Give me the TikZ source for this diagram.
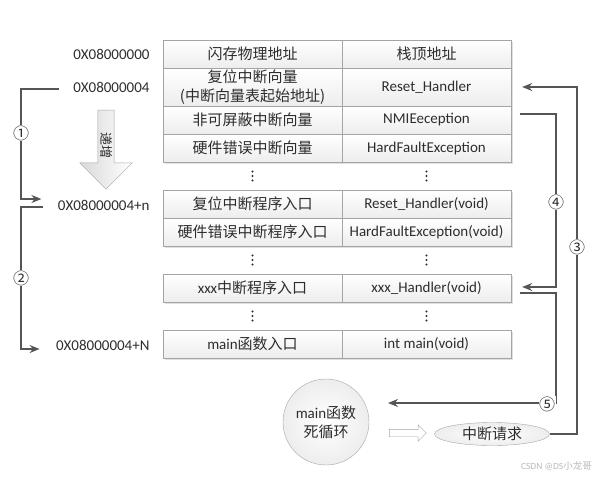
\documentclass[tikz,border=0pt]{standalone}
\usepackage{fontspec}
\setmainfont{Carlito}
\newfontfamily\cjk{Noto Sans CJK SC}
\usetikzlibrary{arrows.meta, shapes.geometric, shapes.arrows, backgrounds}
\definecolor{linegray}{RGB}{85,85,85}
\definecolor{boxgray}{RGB}{165,165,165}
\definecolor{txtgray}{RGB}{45,45,45}
\tikzset{
  cellL/.style={draw=boxgray, top color=white, bottom color=gray!14,
                minimum width=179, minimum height=28, inner sep=0pt,
                align=center, text=txtgray, font=\fontsize{15}{19}\selectfont},
  cellR/.style={cellL, minimum width=169},
  addr/.style={anchor=east, text=txtgray, font=\fontsize{15}{16}\selectfont},
  arr/.style={-{Stealth[length=10pt, width=8pt]}, draw=linegray, line width=1.4pt},
  num/.style={fill=white, inner sep=0.5pt, text=txtgray, font=\cjk\fontsize{16}{16}\selectfont},
  shade/.style={fill=black!12},
}

\begin{document}
\begin{tikzpicture}[x=1pt, y=-1pt]
  \useasboundingbox (0,0) rectangle (602,477);

  % ─── vector table (flash start) ──────────────────────────────
  \node[cellL] (r1a) at (252.5,54)  {{\cjk 闪存物理地址}};
  \node[cellR] (r1b) at (426.5,54)  {{\cjk 栈顶地址}};
  \node[cellL, minimum height=38] (r2a) at (252.5,87)
        {{\cjk 复位中断向量}\\{\cjk (中断向量表起始地址)}};
  \node[cellR, minimum height=38] (r2b) at (426.5,87) {Reset\_Handler};
  \node[cellL] (r3a) at (252.5,120) {{\cjk 非可屏蔽中断向量}};
  \node[cellR] (r3b) at (426.5,120) {NMIEeception};
  \node[cellL] (r4a) at (252.5,148) {{\cjk 硬件错误中断向量}};
  \node[cellR] (r4b) at (426.5,148) {HardFaultException};

  % ─── handler entries ────────────────────────────────────────
  \node[cellL] (r5a) at (252.5,204) {{\cjk 复位中断程序入口}};
  \node[cellR] (r5b) at (426.5,204) {Reset\_Handler(void)};
  \node[cellL] (r6a) at (252.5,232) {{\cjk 硬件错误中断程序入口}};
  \node[cellR] (r6b) at (426.5,232) {HardFaultException(void)};

  \node[cellL] (r7a) at (252.5,288) {xxx{\cjk 中断程序入口}};
  \node[cellR] (r7b) at (426.5,288) {xxx\_Handler(void)};

  \node[cellL] (r8a) at (252.5,344) {main{\cjk 函数入口}};
  \node[cellR] (r8b) at (426.5,344) {int main(void)};

  % gaps between blocks
  \coordinate (d1a) at (252.5,176); \coordinate (d1b) at (426.5,176);
  \coordinate (d2a) at (252.5,260); \coordinate (d2b) at (426.5,260);
  \coordinate (d3a) at (252.5,316); \coordinate (d3b) at (426.5,316);
  \foreach \d in {d1a,d1b,d2a,d2b,d3a,d3b}
    \foreach \k in {-4.5,0,4.5}
      \fill[txtgray] ([yshift=\k pt]\d) circle (1.1pt);

  % soft shadows under the four blocks
  \begin{scope}[on background layer]
    \fill[shade] ([xshift=2pt,yshift=-2pt]r1a.north west) rectangle ([xshift=2pt,yshift=-2pt]r4b.south east);
    \fill[shade] ([xshift=2pt,yshift=-2pt]r5a.north west) rectangle ([xshift=2pt,yshift=-2pt]r6b.south east);
    \fill[shade] ([xshift=2pt,yshift=-2pt]r7a.north west) rectangle ([xshift=2pt,yshift=-2pt]r7b.south east);
    \fill[shade] ([xshift=2pt,yshift=-2pt]r8a.north west) rectangle ([xshift=2pt,yshift=-2pt]r8b.south east);
  \end{scope}

  % ─── addresses ──────────────────────────────────────────────
  \node[addr] (a1) at (153,54)  {0X08000000};
  \node[addr] (a2) at (153,87)  {0X08000004};
  \node[addr] (a3) at (153,205) {0X08000004+n};
  \node[addr] (a4) at (153,345) {0X08000004+N};

  % increasing direction
  \node[single arrow, rotate=-90, draw=boxgray, left color=gray!30, right color=white,
        minimum height=79, inner xsep=4pt, inner ysep=2pt,
        single arrow head extend=18pt, text=txtgray, font=\cjk\fontsize{13}{13}\selectfont]
    (inc) at (106,145.5) {递增};

  % ─── left jumps ① ② ─────────────────────────────────────────
  \coordinate (lbus) at (21,0);
  \draw[arr] ([xshift=-11pt,yshift=-2pt]a2.west) -- ([yshift=-2pt]a2.west -| lbus)
             -- ([yshift=6pt]a3.west -| lbus) -- ([xshift=-13pt,yshift=6pt]a3.west);
  \draw[arr] ([xshift=-11pt,yshift=-2pt]a3.west) -- ([yshift=-2pt]a3.west -| lbus)
             -- ([yshift=-4pt]a4.west -| lbus) -- ([xshift=-13pt,yshift=-4pt]a4.west);
  \node[num] (n1) at (21,133) {①};
  \node[num] (n2) at (21,278) {②};

  % ─── main loop and interrupt request ─────────────────────────
  \node[circle, draw=boxgray, inner color=white, outer color=gray!14,
        minimum size=86, inner sep=0pt, align=center, text=txtgray,
        font=\fontsize{15}{19}\selectfont]
    (loop) at (326,422) {main{\cjk 函数}\\{\cjk 死循环}};
  \node[single arrow, draw=boxgray, fill=white, minimum height=37,
        inner sep=3.5pt, single arrow head extend=4.5pt] (flow) at (406,433) {};
  \node[ellipse, draw=boxgray, inner color=white, outer color=gray!14,
        minimum width=115, minimum height=23, inner sep=0pt, text=txtgray,
        font=\cjk\fontsize{15}{15}\selectfont]
    (req) at (492,434) {中断请求};

  % ─── right jumps ③ ④ ⑤ ──────────────────────────────────────
  \coordinate (rbus3) at (577,0);
  \coordinate (rbus4) at (556,0);
  \coordinate (back) at (388,403);
  \draw[arr] (req.east) -- (req.east -| rbus3) -- (r2b.east -| rbus3)
             -- ([xshift=11pt]r2b.east);
  \draw[arr] ([xshift=9pt,yshift=6pt]r3b.east) -- ([yshift=6pt]r3b.east -| rbus4)
             -- ([yshift=1pt]r7b.east -| rbus4) -- ([xshift=11pt,yshift=1pt]r7b.east);
  \draw[arr] ([xshift=9pt,yshift=-5pt]r7b.east) -- ([yshift=-5pt]r7b.east -| rbus4)
             -- (back -| rbus4) -- (back);
  \node[num] (n3) at (577,247) {③};
  \node[num] (n4) at (556,202) {④};
  \node[num] (n5) at (547,404) {⑤};

  % watermark
  \node[anchor=east, text=gray!55, inner sep=0pt, font=\fontsize{9.5}{10}\selectfont]
    (mark) at (592,466) {CSDN @DS{\cjk 小龙哥}};
\end{tikzpicture}
\end{document}
